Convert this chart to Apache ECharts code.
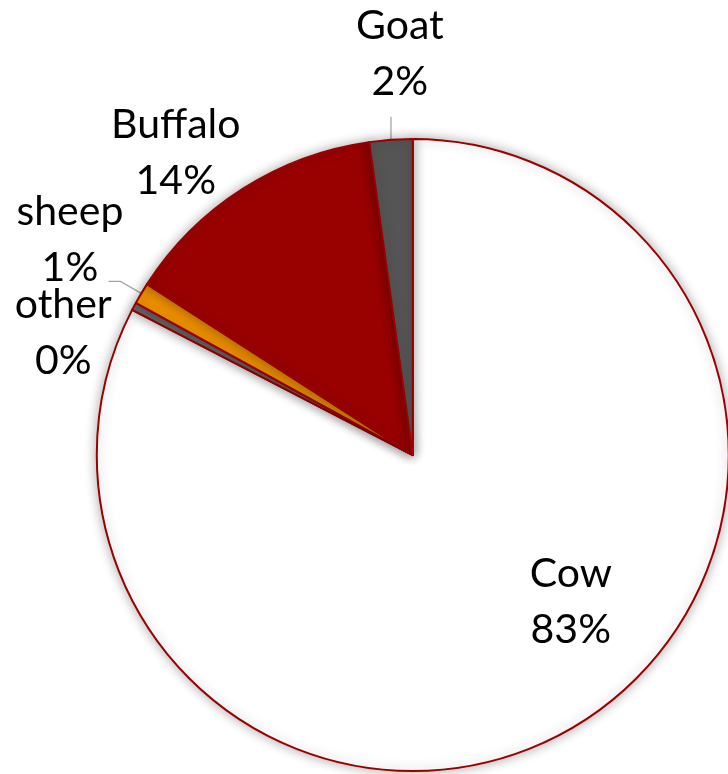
<!DOCTYPE html>
<html>
<head>
<meta charset="utf-8">
<script src="https://cdn.jsdelivr.net/npm/echarts@6/dist/echarts.min.js"></script>
<style>
  html, body { margin: 0; padding: 0; background: #ffffff; }
  #chart { width: 728px; height: 774px; }
</style>
</head>
<body>
<div id="chart"></div>
<script>
// Milk production share by animal
const animals = ['Cow', 'other', 'sheep', 'Buffalo', 'Goat'];
const shares = [82.6, 0.4, 1.1, 13.7, 2.2];
const sliceColors = ['#ffffff', '#6e6e6e', '#ee9000', '#990000', '#555555'];

// label anchor for each slice, in fractions of the radius from the pie centre
const labelAnchor = {
  Cow: [0.500, 0.465],
  other: [-1.106, -0.386],
  sheep: [-1.085, -0.680],
  Buffalo: [-0.750, -0.956],
  Goat: [-0.041, -1.269]
};
const leaderSlices = ['Goat', 'sheep'];

const PIE_CENTER = [0.567, 0.588];
const PIE_RADIUS = 316;

const chart = echarts.init(document.getElementById('chart'), null, { renderer: 'canvas' });

const total = shares.reduce((a, b) => a + b, 0);
function midAngle(i) {
  let before = 0;
  for (let k = 0; k < i; k++) before += shares[k];
  return (before + shares[i] / 2) / total * Math.PI * 2;
}

chart.setOption({
  backgroundColor: '#ffffff',
  animation: false,
  series: [{
    type: 'pie',
    center: [PIE_CENTER[0] * 100 + '%', PIE_CENTER[1] * 100 + '%'],
    radius: PIE_RADIUS,
    startAngle: 90,
    clockwise: true,
    percentPrecision: 0,
    avoidLabelOverlap: false,
    itemStyle: {
      borderColor: '#9a0000',
      borderWidth: 2,
      shadowBlur: 12,
      shadowColor: 'rgba(0,0,0,0.32)'
    },
    label: {
      show: true,
      position: 'outside',
      formatter: '{b}\n{d}%',
      fontFamily: 'Lato',
      fontSize: 41,
      lineHeight: 56,
      color: '#000000',
      align: 'center'
    },
    labelLine: {
      show: true,
      length: 10,
      length2: 10,
      lineStyle: { color: '#a6a6a6', width: 1.3 }
    },
    emphasis: { disabled: true },
    labelLayout: function (params) {
      const name = animals[params.dataIndex];
      const a = labelAnchor[name];
      const cx = chart.getWidth() * PIE_CENTER[0];
      const cy = chart.getHeight() * PIE_CENTER[1];
      const r = PIE_RADIUS;
      const out = {
        x: cx + a[0] * r,
        y: cy + a[1] * r,
        align: 'center',
        verticalAlign: 'middle'
      };
      if (leaderSlices.indexOf(name) >= 0) {
        const t = midAngle(params.dataIndex);
        const p0 = [cx + r * Math.sin(t), cy - r * Math.cos(t)];
        if (name === 'Goat') {
          out.labelLinePoints = [p0, [p0[0], p0[1] - 0.073 * r], [p0[0], p0[1] - 0.073 * r]];
        } else {
          const p1 = [p0[0] - 0.066 * r, p0[1] - 0.038 * r];
          out.labelLinePoints = [p0, p1, [p1[0] - 0.038 * r, p1[1]]];
        }
      }
      return out;
    },
    data: animals.map((name, i) => ({
      name: name,
      value: shares[i],
      itemStyle: { color: sliceColors[i] },
      label: name === 'Cow' ? { position: 'inside' } : {},
      labelLine: { show: leaderSlices.indexOf(name) >= 0 }
    }))
  }]
});
</script>
</body>
</html>
